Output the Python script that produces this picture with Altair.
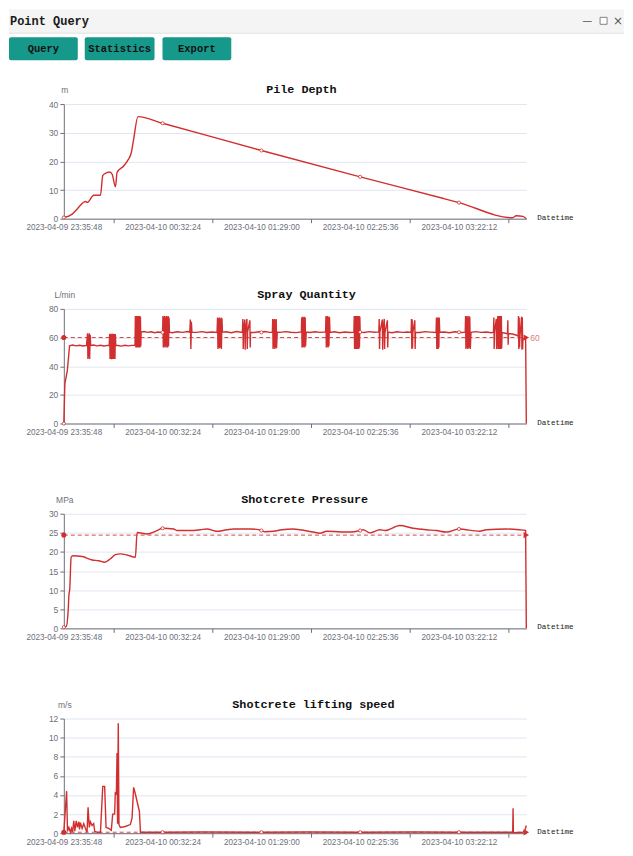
import json
import altair as alt
import pandas as pd

# ---------------- shared x axis (minutes after 2023-04-09 23:35:48) ----------------
tick_minutes = [0, 56.6, 113.2, 169.8, 226.4]
tick_labels = ["2023-04-09 23:35:48", "2023-04-10 00:32:24", "2023-04-10 01:29:00",
               "2023-04-10 02:25:36", "2023-04-10 03:22:12"]
x_end = 265.0

# ---------------- header texts ----------------
header_title = "Point Query"
button_labels = ["Query", "Statistics", "Export"]
window_icons = ["\u2014", "\u00d7"]

# ---------------- panel texts / scales ----------------
panel_titles = ["Pile Depth", "Spray Quantity", "Shotcrete Pressure", "Shotcrete lifting speed"]
panel_units = ["m", "L/min", "MPa", "m/s"]
x_name = "Datetime"
y_max = [40, 80, 30, 12]
y_ticks = [[0, 10, 20, 30, 40], [0, 20, 40, 60, 80], [0, 5, 10, 15, 20, 25, 30],
           [0, 2, 4, 6, 8, 10, 12]]
mark_values = [None, 60, 24.4, 0.1]
mark_labels = [None, "60", None, None]

# ---------------- series ----------------
depth_t = [0, 4.8, 7.7, 10.5, 12.4, 13.4, 17.2, 21.0, 22.3, 23.8, 26.3, 27.7, 29.6, 30.5,
           34.3, 36.8, 38.7, 40.0, 42.5, 56.6, 113.2, 169.8, 216.5, 226.4, 257.1, 259.2,
           263.0, 265.0]
depth_v = [0.4, 1.6, 3.4, 5.3, 6.0, 5.7, 8.2, 8.2, 15.0, 15.8, 16.3, 15.5, 11.1, 16.1,
           18.4, 20.5, 23.1, 27.7, 35.6, 33.3, 23.8, 14.6, 7.2, 5.6, 0.3, 1.0,
           0.8, 0.0]

spray_t = [0, 0.6, 2.0, 3.3, 5.0, 7.0, 9.0, 11.0, 13.0,
           13.6, 13.8, 14.1, 14.3, 14.6, 14.8, 15.1, 15.4,
           17.0, 19.0, 21.0, 23.0, 25.0, 26.0,
           26.3, 26.5, 26.7, 26.9, 27.1, 27.3, 27.5, 27.7, 27.9, 28.1, 28.3, 28.5, 28.7,
           28.9, 29.1, 29.3, 29.5, 29.8,
           31.0, 33.0, 35.0, 37.0, 39.0, 40.8,
           41.0, 41.3, 41.5, 41.7, 41.9, 42.1, 42.3, 42.5, 42.7, 42.9, 43.1, 43.3, 43.5,
           43.7, 43.9, 44.1, 44.3, 44.6,
           46.0, 48.0, 50.0, 52.0, 54.0, 56.0, 56.6,
           56.8, 57.0, 57.3, 57.5, 57.8, 58.0, 58.3, 58.5, 58.8, 59.0, 59.3, 59.5, 59.8,
           60.0, 60.3, 60.5,
           62.0, 65.0, 68.0, 71.0, 72.2,
           72.5, 72.8, 73.1, 73.4,
           76.0, 79.0, 82.0, 85.0, 87.8,
           88.1, 88.3, 88.6, 88.8, 89.1, 89.3, 89.6, 89.8, 90.1, 90.3, 90.6, 90.9,
           93.0, 96.0, 99.0, 102.3,
           102.6, 102.8, 103.0, 103.7, 103.9, 104.1, 104.9, 105.1, 105.3, 106.6, 106.8, 107.0,
           109.0, 112.0, 113.2, 115.0, 118.0, 119.5,
           119.7, 119.9, 120.2, 120.4, 120.7, 120.9, 121.2, 121.4, 121.7, 121.9, 122.3,
           124.0, 127.0, 130.0, 133.0, 136.1,
           136.3, 136.5, 136.8, 137.0, 137.3, 137.5, 137.8, 138.0, 138.3, 138.5, 138.9,
           141.0, 144.0, 147.0, 150.0,
           150.2, 150.4, 150.7, 150.9, 151.2, 151.4, 151.7, 151.9, 152.2, 152.5,
           155.0, 158.0, 161.0, 164.0, 166.2,
           166.4, 166.6, 166.8, 167.0, 167.2, 167.4, 167.6, 167.8, 168.0, 168.2, 168.4,
           168.6, 168.8, 169.0, 169.2, 169.4, 169.6, 169.8,
           172.0, 175.0, 178.0, 180.5,
           180.7, 180.9, 181.1, 182.5, 182.7, 182.9, 183.6, 183.8, 184.0, 185.4, 185.6, 185.8,
           188.0, 191.0, 194.0, 197.0, 199.0,
           199.2, 199.4, 199.6, 199.8, 200.0, 201.1, 201.3, 201.5,
           204.0, 207.0, 210.0, 213.3,
           213.5, 213.7, 213.9, 214.1, 214.3, 214.5, 214.7, 214.9, 215.1, 215.4,
           218.0, 221.0, 224.0, 226.4, 228.0, 230.0,
           230.2, 230.4, 230.6, 230.9, 231.1, 231.4, 231.6, 231.9, 232.1, 232.4, 232.6,
           232.9, 233.3,
           236.0, 239.0, 242.0, 245.0, 246.2,
           246.4, 246.6, 246.8, 247.8, 248.0, 248.2, 248.7, 248.9, 249.1, 249.3, 249.5,
           249.7, 249.9, 250.1, 250.3, 250.5, 250.7, 250.9, 251.1,
           253.0, 254.2, 254.4, 254.6, 254.8,
           257.0, 259.0, 260.3,
           260.5, 260.7, 260.9, 261.1, 261.3, 262.3, 262.5, 262.7, 262.9, 263.1,
           264.0, 264.6, 265.0]
spray_v = [0.0, 27.8, 36.9, 54.3, 54.8, 54.2, 54.6, 54.1, 54.5,
           63, 45, 62, 46, 63, 45, 62, 54.5,
           54.8, 54.2, 54.6, 54.1, 54.5, 54.3,
           62.6, 45, 62, 45.5, 62.5, 44.8, 62.6, 45, 62, 45.2, 62.6, 45, 62.4,
           45.5, 62, 45, 62.5, 54.5,
           54.4, 54.0, 54.6, 54.2, 54.5, 54.6,
           75, 53, 75, 54, 74.5, 53, 75, 53.5, 75, 53, 74, 54, 75,
           53, 74.5, 54, 63.5, 64.0,
           64.2, 63.6, 64.0, 63.4, 63.9, 63.5, 63.6,
           75, 53, 74.5, 53.5, 75, 53, 74, 54, 75, 53, 74.5, 53, 75,
           54, 74, 63.8,
           63.4, 64.0, 63.6, 64.2, 63.7,
           72.5, 52, 71, 63.8,
           63.6, 64.1, 63.5, 63.9, 63.6,
           74, 52, 73.5, 53, 74, 52.5, 73, 53, 74, 52, 73.5, 63.8,
           64.0, 63.4, 64.2, 63.6,
           73, 52, 63.8, 72.5, 51.5, 63.6, 73, 52, 64.0, 72, 53, 63.7,
           63.5, 64.0, 63.6, 64.2, 63.6, 63.8,
           73, 52, 72.5, 53, 73, 52, 72, 53, 73, 52.5, 63.8,
           63.6, 64.1, 63.7, 63.4, 63.9,
           74, 53, 74.5, 53, 74, 53.5, 74.5, 53, 74, 54, 63.8,
           63.5, 64.0, 63.6, 63.9,
           75, 53, 74.5, 53.5, 75, 53, 74, 54, 74.5, 63.6,
           64.0, 63.4, 63.9, 63.5, 63.8,
           75, 52, 74.5, 52.5, 75, 52, 75, 53, 74.5, 52, 75,
           52.5, 74, 52, 75, 53, 74.5, 63.8,
           63.5, 64.1, 63.7, 63.9,
           73, 52, 63.6, 72.5, 51.5, 63.8, 73, 52, 63.5, 72, 53, 63.8,
           63.4, 64.0, 63.6, 63.9, 63.6,
           73, 52, 72.5, 52.5, 63.8, 72, 52, 63.7,
           63.5, 64.1, 63.8, 63.5,
           74, 52, 73.5, 52.5, 74, 52, 73, 53, 74, 63.7,
           63.9, 63.4, 64.0, 63.7, 63.5, 63.8,
           75, 52, 74.5, 53, 75, 52, 74, 52.5, 75, 53, 74.5,
           52, 63.6,
           64.1, 63.6, 63.9, 63.4, 63.8,
           74, 52, 63.8, 73, 52, 63.6, 75, 52, 75, 52.5, 74.5,
           52, 75, 53, 74.5, 52, 75, 52.5, 63.5,
           63.0, 62.6, 72, 55, 62.8,
           62.5, 61.8, 61.0,
           75, 52, 74, 53, 60, 74.5, 51.5, 74, 52, 59.5,
           59.0, 60.5, 0.0]

pressure_t = [0, 1.4, 2.5, 2.9, 3.4, 4.2, 5.1, 10.5, 16.2, 20.0, 23.4, 26.7, 29.6, 32.4,
              36.2, 41.0, 42.0, 47.7, 53.4, 56.6, 62.9, 64.9, 72.4, 78.2, 82.0, 87.7,
              93.4, 97.2, 106.7, 110.6, 113.2, 115.3, 120.1, 124.9, 131.5, 135.3, 142.9,
              146.8, 150.6, 163.9, 169.8, 171.5, 175.3, 181.1, 184.0, 192.5, 200.1, 207.8,
              213.5, 219.2, 226.4, 238.2, 242.1, 253.5, 261.0, 264.6, 265.0]
pressure_v = [0.3, 0.5, 4.7, 8.6, 10.3, 18.6, 19.0, 18.8, 17.9, 17.7, 17.3, 18.2, 19.3, 19.5,
              19.2, 18.6, 25.1, 24.7, 25.6, 26.2, 26.0, 25.6, 25.6, 25.8, 26.0, 25.4,
              25.8, 26.0, 26.0, 25.9, 25.6, 25.3, 25.4, 25.8, 26.0, 25.8, 25.2,
              24.9, 25.4, 25.2, 25.6, 25.8, 25.0, 25.8, 25.6, 26.9, 26.2, 25.8,
              25.6, 25.2, 26.0, 25.4, 25.8, 26.0, 25.8, 25.6, 0.0]

speed_t = [0, 1.6, 2.1, 2.9, 3.8, 4.4, 5.0, 5.7, 6.3, 7.1, 7.8, 8.6, 9.0, 9.5, 10.5, 11.4,
           12.4, 13.3, 13.9, 14.6, 15.2, 16.2, 17.1, 17.7, 19.1, 21.0, 22.3, 23.4, 24.2,
           25.7, 27.2, 28.0, 29.1, 29.5, 30.1, 30.5, 30.8, 31.2, 31.6, 32.4, 35.2, 38.1,
           39.1, 40.0, 41.0, 42.5, 43.3, 43.9, 56.6, 80.0, 113.2, 140.0, 169.8, 200.0,
           226.4, 245.0, 257.2, 257.4, 257.6, 263.0, 264.2, 265.0]
speed_v = [0.1, 4.4, 0.2, 0.6, 0.1, 0.5, 0.1, 1.3, 0.2, 1.3, 0.6, 1.2, 0.4, 1.1, 0.5, 1.0,
           0.5, 0.1, 2.7, 0.6, 1.2, 0.8, 1.0, 0.2, 0.1, 0.1, 4.9, 4.9, 0.6,
           0.5, 0.3, 2.0, 2.0, 4.2, 4.1, 8.4, 1.0, 11.5, 0.9, 0.6, 0.7, 0.9,
           1.6, 4.8, 4.1, 2.9, 2.3, 0.1, 0.1, 0.12, 0.1, 0.12, 0.1, 0.12,
           0.1, 0.1, 0.1, 2.6, 0.05, 0.1, 0.3, 0.8]

series = [(depth_t, depth_v, "monotone"), (spray_t, spray_v, "linear"),
          (pressure_t, pressure_v, "monotone"), (speed_t, speed_v, "linear")]

# ---------------- styles ----------------
LINE = "#d12f2f"
MARK = "#d24848"
AXIS = "#6e7079"
GRID = "#e0e6f1"
TEAL = "#16998a"
W, H = 464, 115
title_x = [203, 194, 178, 169]

label_expr = json.dumps(tick_labels) + "[round(datum.value / 56.6)]"
one = pd.DataFrame({"k": [0]})


def make_panel(i, with_header):
    t, v, interp = series[i]
    df = pd.DataFrame({"t": t, "v": v})
    x_enc = alt.X("t:Q", scale=alt.Scale(domain=[0, x_end], nice=False, zero=False),
                  axis=alt.Axis(values=tick_minutes, labelExpr=label_expr, title=None,
                                grid=False, tickOffset=49.5, labelOffset=-49.5,
                                labelFlush=False, labelOverlap=False, domainColor=AXIS,
                                tickColor=AXIS, tickSize=4, labelColor=AXIS,
                                labelFont="Liberation Sans", labelFontSize=8.2,
                                labelPadding=1))
    y_enc = alt.Y("v:Q", scale=alt.Scale(domain=[0, y_max[i]], nice=False),
                  axis=alt.Axis(values=y_ticks[i], title=None, grid=True, gridColor=GRID,
                                domainColor=AXIS, tickColor=AXIS, tickSize=4,
                                labelColor=AXIS, labelFont="Liberation Sans",
                                labelFontSize=8.5, labelPadding=2))
    top = -95 if with_header else -30
    layers = [alt.Chart(one).mark_rect(opacity=0).encode(
        x=alt.value(-55), x2=alt.value(562), y=alt.value(top), y2=alt.value(128.5))]

    if with_header:
        layers.append(alt.Chart(one).mark_rect(color="#f4f4f4").encode(
            x=alt.value(-55), x2=alt.value(562), y=alt.value(-95), y2=alt.value(-71)))
        layers.append(alt.Chart(one).mark_rule(color="#e2e2e2").encode(
            x=alt.value(-55), x2=alt.value(562), y=alt.value(-71)))
        layers.append(alt.Chart(one).mark_text(
            align="left", baseline="middle", font="Liberation Mono", fontWeight="bold",
            fontSize=12, color="#1a1a1a").encode(
            x=alt.value(-54), y=alt.value(-83), text=alt.value(header_title)))
        layers.append(alt.Chart(one).mark_text(
            align="center", baseline="middle", font="DejaVu Sans", fontSize=10,
            color="#555555").encode(x=alt.value(525), y=alt.value(-83),
                                    text=alt.value(window_icons[0])))
        layers.append(alt.Chart(one).mark_rect(fill="white", stroke="#666666",
                                               strokeWidth=0.8).encode(
            x=alt.value(538), x2=alt.value(545), y=alt.value(-87), y2=alt.value(-80)))
        layers.append(alt.Chart(one).mark_text(
            align="center", baseline="middle", font="DejaVu Sans", fontSize=12,
            color="#555555").encode(x=alt.value(556), y=alt.value(-83),
                                    text=alt.value(window_icons[1])))
        bx = [(-55, 14), (21, 91), (99, 168)]
        for (x0, x1), lab in zip(bx, button_labels):
            layers.append(alt.Chart(one).mark_rect(color=TEAL, cornerRadius=2).encode(
                x=alt.value(x0), x2=alt.value(x1), y=alt.value(-67), y2=alt.value(-44)))
            layers.append(alt.Chart(one).mark_text(
                align="center", baseline="middle", font="Liberation Mono",
                fontWeight="bold", fontSize=10.5, color="#111111").encode(
                x=alt.value((x0 + x1) / 2), y=alt.value(-55.5), text=alt.value(lab)))

    # titles, unit and axis name
    layers.append(alt.Chart(one).mark_text(
        align="left", baseline="middle", font="Liberation Mono", fontWeight="bold",
        fontSize=11.8, color="#111111").encode(
        x=alt.value(title_x[i]), y=alt.value(-15), text=alt.value(panel_titles[i])))
    layers.append(alt.Chart(one).mark_text(
        align="center", baseline="middle", font="Liberation Sans", fontSize=8.5,
        color=AXIS).encode(x=alt.value(1), y=alt.value(-14), text=alt.value(panel_units[i])))
    layers.append(alt.Chart(one).mark_text(
        align="left", baseline="middle", font="Liberation Mono", fontSize=7.6,
        color="#222222").encode(x=alt.value(475), y=alt.value(114), text=alt.value(x_name)))

    # mark line
    mv = mark_values[i]
    if mv is not None:
        mdf = pd.DataFrame({"t": [0, x_end], "v": [mv, mv]})
        layers.append(alt.Chart(mdf).mark_line(color=MARK, strokeDash=[4, 3],
                                               strokeWidth=1).encode(x=x_enc, y=y_enc))

    # data line
    layers.append(alt.Chart(df).mark_line(color=LINE, strokeWidth=1.4,
                                          interpolate=interp).encode(x=x_enc, y=y_enc))
    layers.append(alt.Chart(df).transform_filter(
        alt.FieldOneOfPredicate(field="t", oneOf=tick_minutes)).mark_point(
        shape="circle", filled=True, fill="white", stroke=LINE, strokeWidth=0.8,
        size=10, opacity=1).encode(x=x_enc, y=y_enc))

    if mv is not None:
        layers.append(alt.Chart(mdf).transform_filter(alt.datum.t == 0).mark_point(
            shape="circle", filled=True, color=LINE, size=26, opacity=1).encode(
            x=x_enc, y=y_enc))
        layers.append(alt.Chart(mdf).transform_filter(alt.datum.t == x_end).mark_point(
            shape="triangle-right", filled=True, color=LINE, size=40, opacity=1).encode(
            x=x_enc, y=y_enc))
        if mark_labels[i] is not None:
            layers.append(alt.Chart(mdf).transform_filter(alt.datum.t == x_end).mark_text(
                align="left", baseline="middle", font="Liberation Sans", fontSize=8.5,
                color="#e07a76", dx=4).encode(x=x_enc, y=y_enc,
                                              text=alt.value(mark_labels[i])))

    return alt.layer(*layers).properties(width=W, height=H)


panels = [make_panel(i, i == 0) for i in range(4)]
chart = alt.vconcat(*panels, spacing=46.5).properties(padding=0).configure_view(stroke=None)
chart.save("out.html", embed_options={"renderer": "svg", "actions": False})
